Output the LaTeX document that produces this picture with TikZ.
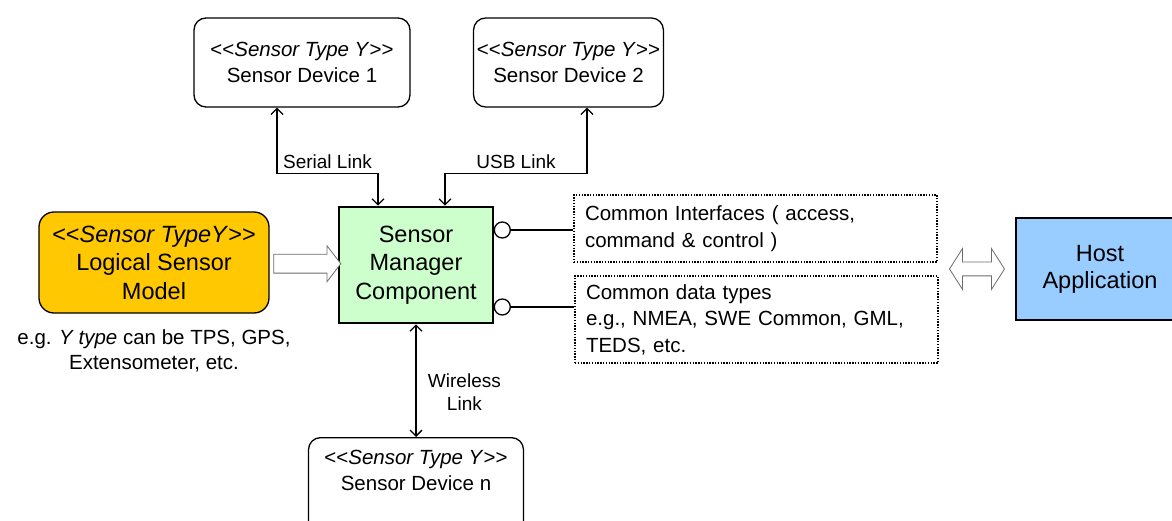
\documentclass[tikz,border=0pt]{standalone}
\usepackage{fontspec}
\setmainfont{Liberation Sans}
\usepackage{tikz}
\usetikzlibrary{arrows.meta,shapes,positioning,calc}
\definecolor{modelgold}{RGB}{255,200,0}
\definecolor{mgrgreen}{RGB}{204,255,204}
\definecolor{hostblue}{RGB}{153,204,255}
\newcommand{\stype}[1]{<{}<\textit{#1}>{}>}

\begin{document}
\begin{tikzpicture}
 [x=1pt, y=-1pt,
 device/.style={
  rectangle,
  rounded corners=12pt,
  line width=1.3pt, % border
  draw=black,
  minimum height=89pt,
  align=center,
  font=\fontsize{20.5}{26}\selectfont},
 model/.style={
  rectangle,
  rounded corners=15pt,
  line width=1.3pt,
  draw=black,
  fill=modelgold,
  minimum width=230pt,
  minimum height=101pt,
  align=center,
  font=\fontsize{23.5}{28.5}\selectfont},
 manager/.style={
  rectangle,
  line width=2.6pt,
  draw=black,
  fill=mgrgreen,
  minimum width=154pt,
  minimum height=116pt,
  align=center,
  font=\fontsize{23.5}{28.5}\selectfont},
 note/.style={
  rectangle,
  line width=1.2pt,
  draw=black,
  dash pattern=on 1.4pt off 1.4pt,
  minimum width=363pt,
  text width=341pt,
  inner xsep=11pt,
  align=left,
  font=\fontsize{20.5}{26.5}\selectfont},
 host/.style={
  rectangle,
  line width=1.3pt,
  draw=black,
  fill=hostblue,
  minimum width=168pt,
  minimum height=102pt,
  align=center,
  font=\fontsize{23.5}{27}\selectfont},
 socket/.style={circle, draw, line width=1.3pt, fill=white,
  minimum size=16pt, inner sep=0pt},
 hollow/.style={single arrow, draw=gray!85!black, line width=0.8pt, fill=white,
  inner xsep=0pt, inner ysep=9pt, single arrow head extend=8.5pt,
  single arrow tip angle=105, minimum height=67pt},
 twoway/.style={double arrow, draw=gray!85!black, line width=0.8pt, fill=white,
  inner xsep=0pt, inner ysep=6.5pt, double arrow head extend=13.5pt,
  double arrow tip angle=115, minimum height=55pt},
 lbl/.style={font=\fontsize{19}{23}\selectfont, align=center},
 wire/.style={line width=1.3pt},
 tip/.style={<->, line width=1.3pt, >={Straight Barb[length=6pt,width=12pt]}}]
\useasboundingbox (0,0) rectangle (1172,521);
\node (dev1) [device, minimum width=216pt] at (302,62.5) {\stype{Sensor Type Y}\\ Sensor Device 1};
\node (dev2) [device, minimum width=181pt] at (568.5,62.5) {\stype{Sensor Type Y}\\ Sensor Device 2};
\node (mgr) [manager] at (416,265) {Sensor\\ Manager\\ Component};
\node (model) [model] at (154,262.5) {\stype{Sensor TypeY}\\ Logical Sensor\\ Model};
\node (caption) [below=12pt of model, align=center, font=\fontsize{20.5}{25}\selectfont]
  {e.g. \textit{Y type} can be TPS, GPS,\\ Extensometer, etc.};
\node (devn) [device, anchor=north, minimum width=215pt, minimum height=110pt,
  text height=41pt, text depth=45pt] at (416,437) {\stype{Sensor Type Y}\\ Sensor Device n};
\node (ifnote) [note, minimum height=67pt] at (755.5,228.5) {Common Interfaces ( access,\\ command \& control )};
\node (datanote) [note, minimum height=87pt] at (756.5,319.5) {Common data types\\ e.g., NMEA, SWE Common, GML,\\ TEDS, etc.};
\node (host) [host] at (1100,269) {Host\\ Application};
\node (sock1) [socket] at ([xshift=8pt,yshift=35pt]mgr.east) {};
\node (sock2) [socket] at ([xshift=8pt,yshift=-42pt]mgr.east) {};
\node (feed) [hollow] at ($(model.east)!.5!(mgr.west)$) {};
\node (swap) [twoway] at ($(datanote.east |- host.west)!.5!(host.west)$) {};
\draw[wire] (sock1.east) -- (sock1.east -| ifnote.west);
\draw[wire] (sock2.east) -- (sock2.east -| datanote.west);
\draw[tip] ([xshift=-25pt]dev1.south) -- ++(0,66) -- node[lbl, above=1pt]{Serial Link} ++(101,0) -- ([xshift=-38pt]mgr.north);
\draw[tip] ([xshift=18.5pt]dev2.south) -- ++(0,66) -- node[lbl, above=1pt]{USB Link} ++(-142,0) -- ([xshift=29pt]mgr.north);
\draw[tip] (mgr.south) -- node[lbl, right=8pt, pos=0.6]{Wireless\\ Link} (devn.north);
\end{tikzpicture}
\end{document}
